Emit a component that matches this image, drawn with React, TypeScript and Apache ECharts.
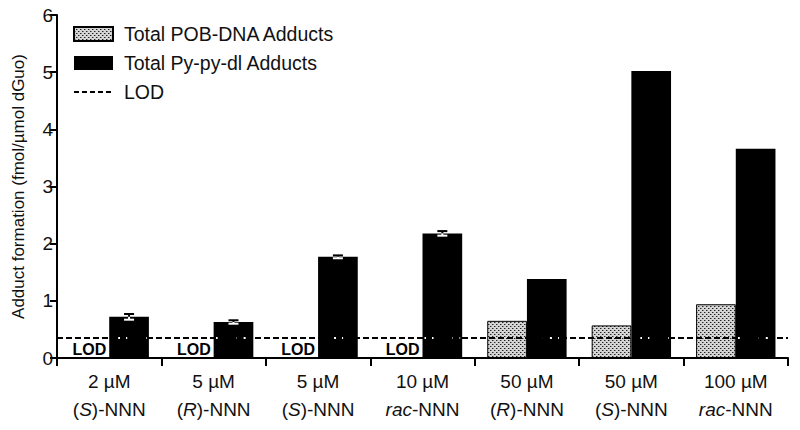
import React, { useEffect, useRef } from "react";
import * as echarts from "echarts";

const doses = ["2 µM", "5 µM", "5 µM", "10 µM", "50 µM", "50 µM", "100 µM"];
const isomers = ["S", "R", "S", "rac", "R", "S", "rac"];
const pobValues: (number | null)[] = [null, null, null, null, 0.65, 0.57, 0.94];
const pyValues = [0.72, 0.63, 1.77, 2.18, 1.38, 5.02, 3.66];
const pyErrors = [0.05, 0.03, 0.025, 0.04, 0, 0, 0];
const belowLod = [true, true, true, true, false, false, false];
const LOD = 0.35;
const yMin = 0;
const yMax = 6;
const yInterval = 1;

const FONT = "Liberation Sans, Arial, Helvetica, sans-serif";

function makePattern(): string {
  const c = document.createElement("canvas");
  c.width = 4;
  c.height = 4;
  const ctx = c.getContext("2d")!;
  ctx.fillStyle = "#d4d4d4";
  ctx.fillRect(0, 0, 4, 4);
  ctx.fillStyle = "#222";
  ctx.fillRect(0, 0, 1, 1);
  ctx.fillRect(2, 2, 1, 1);
  ctx.fillStyle = "#8a8a8a";
  ctx.fillRect(1, 0, 1, 1);
  ctx.fillRect(3, 2, 1, 1);
  return c.toDataURL();
}

export default function App() {
  const ref = useRef<HTMLDivElement>(null);
  useEffect(() => {
    document.body.style.margin = "0";
    if (!ref.current) return;
    const chart = echarts.init(ref.current, undefined, { renderer: "svg" });
    const pattern = { image: makePattern(), repeat: "repeat" };
    const catNames = doses.map((d, i) => d + " " + isomers[i]);
    const BW = 0.38;
    const option: any = {
      animation: false,
      textStyle: { fontFamily: FONT },
      grid: { left: 57, right: 12, top: 15, bottom: 72, containLabel: false },
      legend: {
        orient: "vertical",
        left: 73,
        top: 23,
        padding: 0,
        itemWidth: 39,
        itemHeight: 14,
        itemGap: 7,
        textStyle: { fontSize: 19.5, color: "#111", fontFamily: FONT, padding: [0, 0, 0, 6], lineHeight: 22 },
        data: [
          { name: "Total POB-DNA Adducts", icon: "rect" },
          { name: "Total Py-py-dl Adducts", icon: "rect" },
          { name: "LOD", itemStyle: { opacity: 0 } },
        ],
      },
      xAxis: {
        type: "category",
        data: catNames,
        axisLine: { lineStyle: { color: "#000", width: 2 } },
        axisTick: { show: true, length: 8, lineStyle: { color: "#000", width: 2 } },
        axisLabel: {
          margin: 9,
          interval: 0,
          color: "#111",
          fontSize: 19,
          lineHeight: 28,
          formatter: (_v: string, i: number) => {
            const iso = isomers[i];
            const second = iso === "rac" ? "{i|rac}{n|-NNN}" : "{n|(}{i|" + iso + "}{n|)-NNN}";
            return "{n|" + doses[i] + "}\n" + second;
          },
          rich: {
            n: { fontSize: 19, color: "#111", lineHeight: 28, fontFamily: FONT },
            i: { fontSize: 19, color: "#111", lineHeight: 28, fontStyle: "italic", fontFamily: FONT },
          },
        },
      },
      yAxis: {
        type: "value",
        min: yMin,
        max: yMax,
        interval: yInterval,
        name: "Adduct formation (fmol/µmol dGuo)",
        nameLocation: "middle",
        nameGap: 30,
        nameTextStyle: { fontSize: 17, color: "#111", fontFamily: FONT },
        splitLine: { show: false },
        axisLine: { show: true, lineStyle: { color: "#000", width: 2 } },
        axisTick: { show: true, length: 7, lineStyle: { color: "#000", width: 2 } },
        axisLabel: { fontSize: 19, color: "#111", margin: 4 },
      },
      series: [
        {
          name: "Total POB-DNA Adducts",
          type: "bar",
          data: pobValues.map((v) => (v === null ? "-" : v)),
          barWidth: BW * 100 + "%",
          barGap: "0%",
          z: 2,
          itemStyle: { color: pattern, borderColor: "#000", borderWidth: 1 },
        },
        {
          name: "Total Py-py-dl Adducts",
          type: "bar",
          data: pyValues,
          barWidth: BW * 100 + "%",
          barGap: "0%",
          z: 2,
          itemStyle: { color: "#000" },
        },
        {
          name: "LOD",
          type: "line",
          data: [],
          symbol: "none",
          z: 3,
          lineStyle: { color: "#000", width: 2, type: [5, 3] },
          itemStyle: { color: "#000", opacity: 0 },
          markLine: {
            silent: true,
            symbol: "none",
            label: { show: false },
            lineStyle: { color: "#000", width: 2, type: [6, 3], opacity: 1 },
            data: [{ yAxis: LOD }],
          },
        },
        {
          name: "extras",
          type: "custom",
          z: 4,
          data: pyValues.map((v, i) => [i, v, pyErrors[i], belowLod[i] ? 1 : 0]),
          renderItem: (_params: any, api: any) => {
            const i = api.value(0);
            const v = api.value(1);
            const e = api.value(2);
            const lodFlag = api.value(3);
            const band = api.size([1, 0])[0];
            const cx = api.coord([i, 0])[0];
            const y0 = api.coord([i, 0])[1];
            const bw = band * BW;
            const bx = cx + bw / 2;
            const gx = cx - bw / 2;
            const yL = api.coord([i, LOD])[1];
            const children: any[] = [
              {
                type: "line",
                shape: { x1: cx + 2, y1: yL, x2: cx + bw - 2, y2: yL },
                style: { stroke: "#fff", lineWidth: 2, lineDash: [2, 5] },
              },
            ];
            if (e > 0) {
              const yt = api.coord([i, v])[1];
              const yu = api.coord([i, v + e])[1];
              const yl = api.coord([i, v - e])[1];
              const cap = 5;
              children.push(
                { type: "line", shape: { x1: bx, y1: yt, x2: bx, y2: yu }, style: { stroke: "#000", lineWidth: 2 } },
                { type: "line", shape: { x1: bx - cap, y1: yu, x2: bx + cap, y2: yu }, style: { stroke: "#000", lineWidth: 2 } },
                { type: "line", shape: { x1: bx, y1: yt, x2: bx, y2: yl }, style: { stroke: "#fff", lineWidth: 2 } },
                { type: "line", shape: { x1: bx - cap, y1: yl, x2: bx + cap, y2: yl }, style: { stroke: "#fff", lineWidth: 2 } }
              );
            }
            if (lodFlag) {
              children.push({
                type: "text",
                x: gx,
                y: y0 - 9,
                style: {
                  text: "LOD",
                  fill: "#000",
                  fontSize: 16,
                  fontWeight: "bold",
                  fontFamily: FONT,
                  align: "center",
                  verticalAlign: "middle",
                },
              });
            }
            return { type: "group", children };
          },
        },
      ],
    };
    chart.setOption(option);
    return () => chart.dispose();
  }, []);
  return <div ref={ref} style={{ width: 800, height: 430 }} />;
}
